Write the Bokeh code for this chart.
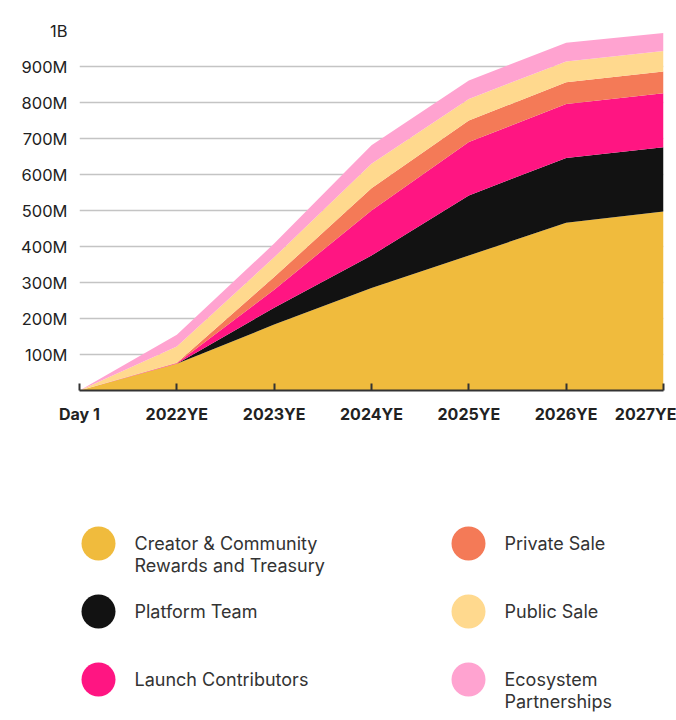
from bokeh.plotting import figure
from bokeh.models import ColumnDataSource, FixedTicker, Range1d
from bokeh.layouts import column
from bokeh.embed import file_html
from bokeh.resources import INLINE
from bokeh.core.properties import value

# ---------------- data (millions of tokens, cumulative unlocked) ----------------
x_labels = ["Day 1", "2022YE", "2023YE", "2024YE", "2025YE", "2026YE", "2027YE"]
creator = [0, 74, 183, 285, 375, 466, 497]
platform = [0, 0, 47, 90, 167, 180, 179]
launch = [0, 2, 50, 125, 148, 150, 150]
private_sale = [0, 1, 35, 62, 60, 60, 60]
public_sale = [0, 45, 55, 68, 60, 58, 57]
ecosystem = [0, 33, 38, 51, 51, 52, 50]

y_ticks = [0, 100, 200, 300, 400, 500, 600, 700, 800, 900, 1000]
y_tick_labels = ["", "100M", "200M", "300M", "400M", "500M", "600M", "700M", "800M", "900M", "1B"]

series_names = ["creator", "platform", "launch", "private", "public", "eco"]
legend_labels = [
    "Creator & Community\nRewards and Treasury",
    "Platform Team",
    "Launch Contributors",
    "Private Sale",
    "Public Sale",
    "Ecosystem\nPartnerships",
]
colors = ["#F0BB3D", "#121212", "#FF1582", "#F47A57", "#FFD98E", "#FFA3D0"]

# ---------------- layout constants (pixels) ----------------
W = 676
BL, BR = 79, 13          # left / right borders -> frame spans 79..663
TOP1, BOT1 = 30, 50      # main chart top / bottom borders
H1 = 440
H2 = 280

FONT = "Inter"

# ---------------- main chart ----------------
xs = list(range(len(x_labels)))
src = ColumnDataSource(dict(
    x=xs, creator=creator, platform=platform, launch=launch,
    private=private_sale, public=public_sale, eco=ecosystem,
))

p = figure(width=W, height=H1, x_range=Range1d(0, len(x_labels) - 1),
           y_range=Range1d(0, 1000), output_backend="svg", toolbar_location=None,
           min_border_left=BL, min_border_right=BR, min_border_top=TOP1, min_border_bottom=BOT1)
p.outline_line_color = None
p.background_fill_color = "white"
p.border_fill_color = "white"

p.varea_stack(stackers=series_names, x="x", color=colors, source=src)

p.xgrid.grid_line_color = None
p.ygrid.grid_line_color = "#c4c4c4"
p.ygrid.grid_line_width = 1.5
p.ygrid.ticker = FixedTicker(ticks=y_ticks)

p.yaxis.ticker = FixedTicker(ticks=y_ticks)
p.yaxis.major_label_overrides = {t: l for t, l in zip(y_ticks, y_tick_labels)}
p.yaxis.axis_line_color = None
p.yaxis.major_tick_line_color = None
p.yaxis.minor_tick_line_color = None
p.yaxis.major_tick_out = 0
p.yaxis.major_label_standoff = 12
p.yaxis.major_label_text_font = FONT
p.yaxis.major_label_text_font_size = "16.5px"
p.yaxis.major_label_text_color = "#222222"

p.xaxis.ticker = FixedTicker(ticks=xs)
p.xaxis.major_label_overrides = {i: l for i, l in zip(xs, x_labels)}
p.xaxis.axis_line_color = "#333333"
p.xaxis.axis_line_width = 2
p.xaxis.major_tick_line_color = "#333333"
p.xaxis.major_tick_line_width = 2
p.xaxis.major_tick_in = 7
p.xaxis.major_tick_out = 0
p.xaxis.minor_tick_line_color = None
p.xaxis.major_label_standoff = 13
p.xaxis.major_label_text_font = FONT
p.xaxis.major_label_text_font_size = "16px"
p.xaxis.major_label_text_font_style = "bold"
p.xaxis.major_label_text_color = "#222222"

# ---------------- legend (separate panel, page-pixel coordinates) ----------------
lg = figure(width=W, height=H2, x_range=Range1d(BL, W - BR), y_range=Range1d(H1 + H2, H1),
            output_backend="svg", toolbar_location=None,
            min_border_left=BL, min_border_right=BR, min_border_top=0, min_border_bottom=0)
lg.axis.visible = False
lg.grid.visible = False
lg.outline_line_color = None

col_x = [98, 468]
row_y = [543, 611, 679]
text_dx = 36
line_h = 22

dot_x, dot_y, dot_c = [], [], []
tx, ty, tt = [], [], []
for i, (lab, c) in enumerate(zip(legend_labels, colors)):
    cx = col_x[i // 3]
    cy = row_y[i % 3]
    dot_x.append(cx)
    dot_y.append(cy)
    dot_c.append(c)
    for k, line in enumerate(lab.split("\n")):
        tx.append(cx + text_dx)
        ty.append(cy + k * line_h)
        tt.append(line)

lg.scatter(x=dot_x, y=dot_y, size=34, color=dot_c, line_color=None)
lg.text(x=tx, y=ty, text=tt, text_font=value(FONT), text_font_size="18px",
        text_color="#333333", text_baseline="middle", text_align="left")

layout = column(p, lg, spacing=0)
open("out.html", "w").write(file_html(layout, INLINE))
